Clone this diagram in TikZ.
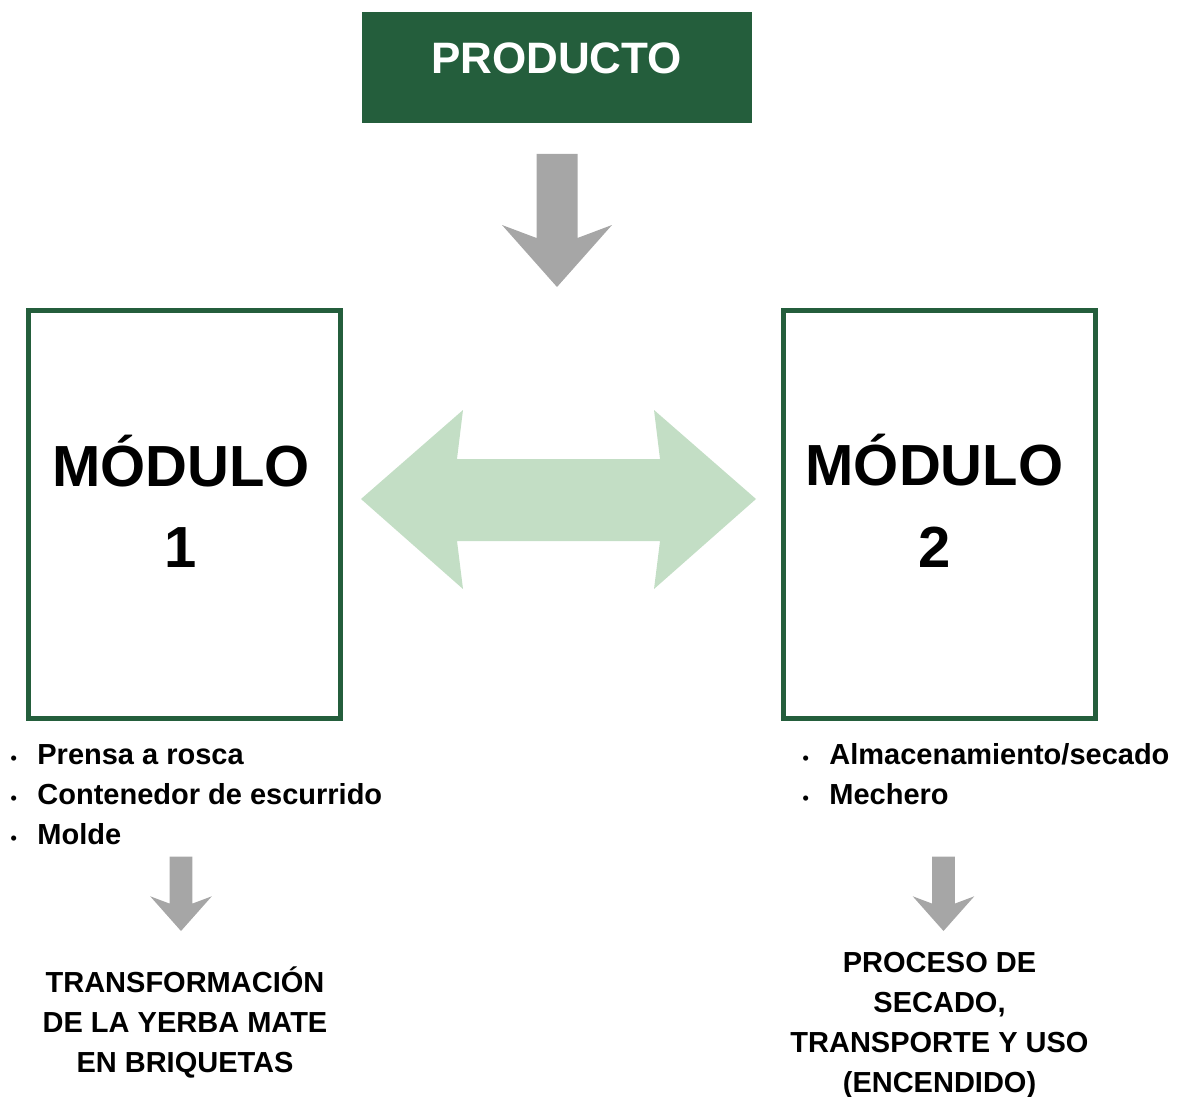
\documentclass[tikz,border=0pt]{standalone}
\usepackage{fontspec}
\setmainfont{Liberation Sans}
\usepackage{tikz}
\usepackage{xcolor}
\usetikzlibrary{positioning}
\definecolor{moduloGreen}{RGB}{36,94,60}
\definecolor{flechaGray}{RGB}{166,166,166}
\definecolor{cambioGreen}{RGB}{195,222,197}
\newcommand{\vineta}{\llap{{\fontsize{9pt}{9pt}\selectfont\textbullet}\hspace{10.2pt}}}

\begin{document}
\begin{tikzpicture}[x=0.5pt, y=-0.5pt,
    modbox/.style={draw=moduloGreen, line width=2.5pt, minimum width=156pt,
                   minimum height=204pt, inner sep=0pt},
    titulo/.style={font=\bfseries\fontsize{29pt}{29pt}\selectfont, inner sep=0pt, anchor=base},
    item/.style={font=\bfseries\fontsize{14.5pt}{14.5pt}\selectfont, inner sep=0pt, anchor=base west},
    salida/.style={font=\bfseries\fontsize{14.5pt}{14.5pt}\selectfont, inner sep=0pt, anchor=base},
    bajada/.pic={\fill[flechaGray] (-20.5,-133) -- (20.5,-133) -- (20.5,-49) -- (55,-62)
                 -- (0,0) -- (-55,-62) -- (-20.5,-49) -- cycle;}]
    \useasboundingbox (0,0) rectangle (1184,1097);

    \node[fill=moduloGreen, minimum width=195pt, minimum height=55.5pt, inner sep=0pt]
      (producto) at (557,67.5) {};
    \node[anchor=base, inner sep=0pt, text=white, font=\bfseries\fontsize{22pt}{22pt}\selectfont]
      (prodtexto) at (556.5,74) {PRODUCTO};
    \pic at (557,287) {bajada};

    \node[modbox] (mod1) at (184.5,514.5) {};
    \node[titulo] (mod1-titulo) at (181,486) {MÓDULO};
    \node[titulo] (mod1-num) at (181,567) {1};

    \node[modbox] (mod2) at (939.5,514.5) {};
    \node[titulo] (mod2-titulo) at (934.5,485.5) {MÓDULO};
    \node[titulo] (mod2-num) at (934.5,567) {2};

    \fill[cambioGreen] (361,499) -- (463,410) -- (457,459) -- (660,459) -- (654,410)
      -- (756,499) -- (654,589) -- (660,541) -- (457,541) -- (463,589) -- cycle;

    \foreach \txt [count=\i] in {Prensa a rosca, Contenedor de escurrido, Molde}
      \node[item] (eq1-\i) at (37,724+40*\i) {\vineta\txt};
    \foreach \txt [count=\i] in {Almacenamiento/secado, Mechero}
      \node[item] (eq2-\i) at (829,724+40*\i) {\vineta\txt};

    \pic[scale=0.56] at (181,931) {bajada};
    \pic[scale=0.56] at (943.5,931) {bajada};

    \foreach \txt [count=\i] in {TRANSFORMACIÓN, DE LA YERBA MATE, EN BRIQUETAS}
      \node[salida] (res1-\i) at (185,952+40*\i) {\txt};
    \foreach \txt [count=\i] in {PROCESO DE, {SECADO,}, TRANSPORTE Y USO, (ENCENDIDO)}
      \node[salida] (res2-\i) at (939.5,932+40*\i) {\txt};
  \end{tikzpicture}
\end{document}
